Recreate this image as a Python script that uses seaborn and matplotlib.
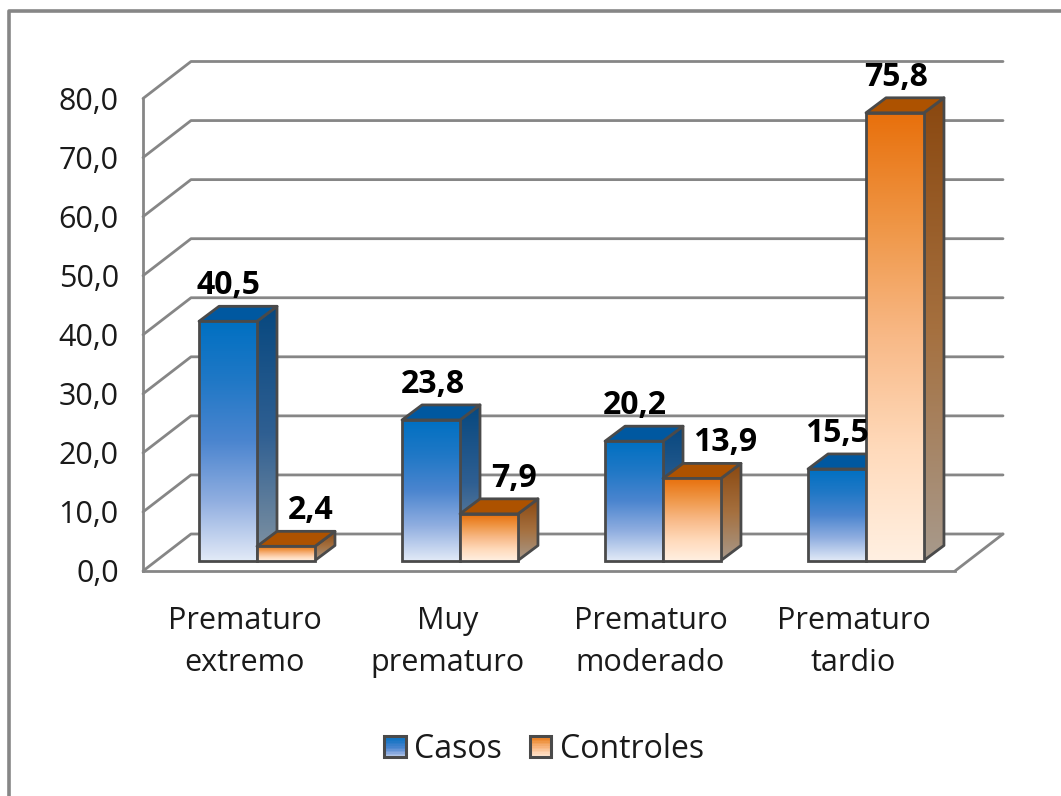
import numpy as np
import pandas as pd
import matplotlib
matplotlib.use("Agg")
import matplotlib.pyplot as plt
from matplotlib.colors import LinearSegmentedColormap
from matplotlib.legend_handler import HandlerBase
from matplotlib.lines import Line2D
from matplotlib.patches import Polygon, Rectangle
import seaborn as sns

categories = ["Prematuro\nextremo", "Muy\nprematuro", "Prematuro\nmoderado", "Prematuro\ntardio"]
casos = [40.5, 23.8, 20.2, 15.5]
controles = [2.4, 7.9, 13.9, 75.8]
series_names = ["Casos", "Controles"]
y_ticks = [0, 10, 20, 30, 40, 50, 60, 70, 80]

W, H = 1061, 796
GREY = "#868686"
EDGE = "#4a4a4a"
TEXT = "#1a1a1a"
FONT_SIZE = 22
TICK_SIZE = 22
LABEL_SIZE = 23
LEGEND_SIZE = 23

# top to bottom stops of the gradients
FRONT_COLORS = {"Casos": ["#0070c2", "#2078c6", "#4b85cf", "#90aee0", "#e2eaf7"],
                "Controles": ["#e8700c", "#ef9646", "#f8b987", "#ffdabb", "#fff0e2"]}
SIDE_COLORS = {"Casos": ["#07487f", "#2f5f92", "#8495a3"], "Controles": ["#8a4810", "#a5703f", "#a89a8c"]}
TOP_COLORS = {"Casos": "#0058a0", "Controles": "#ad5200"}

# px shift of the data labels from the centre of their bar
LABEL_SHIFT = {"Casos": [0, 2, 1, 0], "Controles": [25, 25, 33, 1]}


def px_axes(fig, left, top, right, bottom):
    return fig.add_axes([left / W, 1 - bottom / H, (right - left) / W, (bottom - top) / H])


def gradient(name):
    return LinearSegmentedColormap.from_list(name, FRONT_COLORS[name])


class GradientHandler(HandlerBase):
    def __init__(self, name):
        super().__init__()
        self.cmap = gradient(name)

    def create_artists(self, legend, orig_handle, xdescent, ydescent, width, height, fontsize, trans):
        side = height
        x0 = -xdescent + (width - side) / 2
        y0 = -ydescent
        n = 14
        arts = []
        for i in range(n):
            arts.append(Rectangle((x0, y0 + side * (n - 1 - i) / n), side, side / n + 0.2,
                                  facecolor=self.cmap(i / (n - 1) * 0.85), edgecolor="none", transform=trans))
        arts.append(Rectangle((x0, y0), side, side, facecolor="none", edgecolor=EDGE, linewidth=2.2, transform=trans))
        return arts


sns.set_theme(style="white")
plt.rcParams["font.family"] = ["Open Sans", "DejaVu Sans"]

df = pd.DataFrame({
    "categoria": categories * 2,
    "valor": casos + controles,
    "serie": [series_names[0]] * 4 + [series_names[1]] * 4,
})

fig = plt.figure(figsize=(W / 100, H / 100), dpi=100)

# outer frame, runs off the picture on the right and at the bottom
fig.add_artist(Line2D([9 / W, 9 / W, 1], [0, 1 - 11 / H, 1 - 11 / H], color=GREY, linewidth=2.6))

# front plane of the box: ticks and tick labels live here
ax = px_axes(fig, 143, 98.5, 955, 571)
ax.set_xlim(-0.5, 3.5)
ax.set_ylim(0, 80)
ax.set_facecolor("none")
wall_dx = 48 / 203
wall_dy = 37 / 5.906
wall_lines = dict(color=GREY, linewidth=2, clip_on=False, solid_capstyle="round", zorder=1)
for v in y_ticks:
    ax.plot([-0.5, -0.5 + wall_dx, 3.5 + wall_dx], [v, v + wall_dy, v + wall_dy], **wall_lines)
ax.plot([3.5, 3.5 + wall_dx], [0, wall_dy], **wall_lines)

ax.set_yticks(y_ticks)
ax.set_yticklabels([f"{v:.1f}".replace(".", ",") for v in y_ticks], fontsize=TICK_SIZE, color=TEXT)
ax.set_xticks(range(4))
ax.set_xticklabels(categories, fontsize=FONT_SIZE, color=TEXT, linespacing=1.53)
ax.set_xticks(np.arange(-0.5, 4), minor=True)
ax.tick_params(axis="x", which="major", length=0, pad=25)
ax.tick_params(axis="x", which="minor", length=7.5, width=2, color=GREY, direction="out")
ax.tick_params(axis="y", length=5.5, width=2, color=GREY, direction="out", pad=12)
ax.grid(False)
for s in ["top", "right"]:
    ax.spines[s].set_visible(False)
for s in ["left", "bottom"]:
    ax.spines[s].set_color(GREY)
    ax.spines[s].set_linewidth(2)

# the bars sit a bit deeper than the front plane
ax_bars = px_axes(fig, 155.5, 88, 967.5, 560.5)
ax_bars.set_facecolor("none")
sns.barplot(data=df, x="categoria", y="valor", hue="serie", order=categories, hue_order=series_names,
            width=0.571, gap=0, palette=["#3f80cc", "#f4a768"], legend=False, ax=ax_bars)
ax_bars.set_xlim(-0.5, 3.5)
ax_bars.set_ylim(0, 80)
ax_bars.axis("off")

bar_dx = 20 / 203
bar_dy = 15 / 5.906

for name, container in zip(series_names, ax_bars.containers):
    k = series_names.index(name)
    side_cmap = LinearSegmentedColormap.from_list(name + "_side", SIDE_COLORS[name])
    front_cmap = gradient(name)
    ramp = np.linspace(0, 1, 256).reshape(-1, 1)
    for i, bar in enumerate(container):
        x, w, h = bar.get_x(), bar.get_width(), bar.get_height()
        z = 3 + i * 10 + k * 5
        edge = dict(edgecolor=EDGE, linewidth=2, joinstyle="round", clip_on=False)

        # right side, with the gradient clipped to the parallelogram
        side = Polygon([(x + w, 0), (x + w + bar_dx, bar_dy), (x + w + bar_dx, h + bar_dy), (x + w, h)],
                       facecolor="none", zorder=z + 1, **edge)
        ax_bars.add_patch(side)
        img = ax_bars.imshow(ramp, cmap=side_cmap, extent=(x + w, x + w + bar_dx, 0, h + bar_dy),
                             aspect="auto", zorder=z, origin="upper")
        img.set_clip_path(side)

        # top face
        ax_bars.add_patch(Polygon([(x, h), (x + bar_dx, h + bar_dy), (x + w + bar_dx, h + bar_dy), (x + w, h)],
                                  facecolor=TOP_COLORS[name], zorder=z + 1, **edge))

        # front face: gradient under the seaborn bar
        ax_bars.imshow(ramp, cmap=front_cmap, extent=(x, x + w, 0, h), aspect="auto", zorder=z + 2,
                       origin="upper", clip_on=False)
        bar.set_facecolor("none")
        bar.set_edgecolor(EDGE)
        bar.set_linewidth(2)
        bar.set_zorder(z + 3)
        bar.set_clip_on(False)

        ax_bars.annotate(f"{h:.1f}".replace(".", ","), (x + w / 2, h + bar_dy),
                         xytext=(LABEL_SHIFT[name][i], 4), textcoords="offset pixels",
                         ha="center", va="bottom", fontsize=LABEL_SIZE, fontweight="bold",
                         color="black", annotation_clip=False, zorder=100)

ax_bars.set_xlim(-0.5, 3.5)
ax_bars.set_ylim(0, 80)

handles = [Rectangle((0, 0), 1, 1), Rectangle((0, 0), 1, 1)]
fig.legend(handles, series_names, loc="center", bbox_to_anchor=(544 / W, 1 - 749 / H), ncol=2, frameon=False,
           fontsize=LEGEND_SIZE, handlelength=0.7, handleheight=0.66, handletextpad=0.25, columnspacing=0.85,
           labelcolor=TEXT,
           handler_map={handles[0]: GradientHandler("Casos"), handles[1]: GradientHandler("Controles")})

fig.savefig("out.png", dpi=100, facecolor="white")
